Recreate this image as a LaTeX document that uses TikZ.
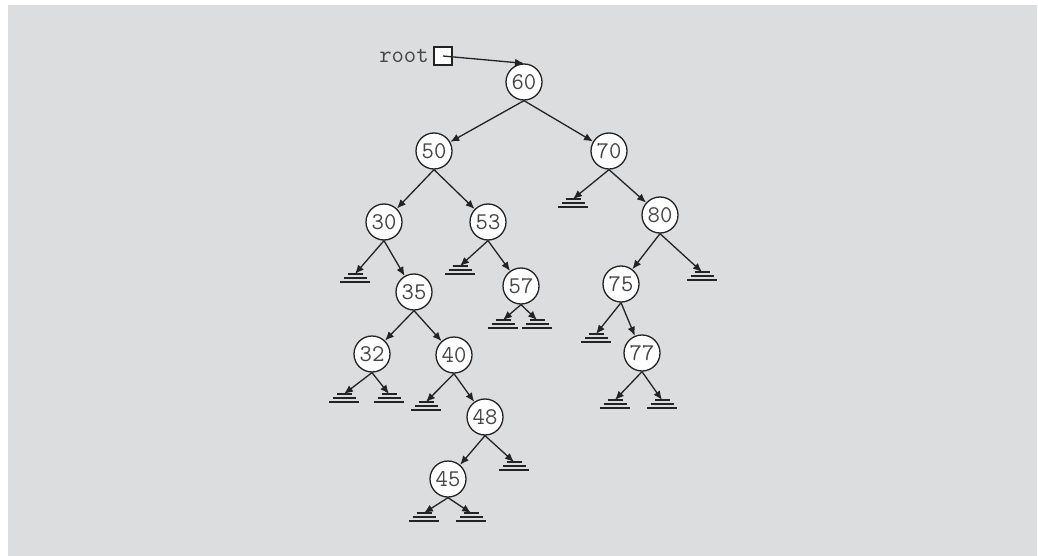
\documentclass[tikz,border=0pt]{standalone}
\usetikzlibrary{arrows.meta,positioning}
\definecolor{bggray}{RGB}{220,221,223}
\definecolor{inkgray}{RGB}{35,35,35}
\definecolor{textgray}{RGB}{70,70,70}

\begin{document}
\begin{tikzpicture}[x=0.5pt, y=-0.5pt, line width=0.65pt, draw=inkgray,
  key/.style={circle, draw=inkgray, fill=white, minimum size=18pt,
              inner sep=0pt, font=\ttfamily\fontsize{12}{13}\selectfont, text=textgray},
  ptrbox/.style={rectangle, draw=inkgray, fill=white, minimum size=9pt, inner sep=0pt},
  link/.style={-{Latex[length=4.5pt,width=3.8pt]}, inkgray},
]

% Background
\useasboundingbox (0,0) rectangle (1038,556);
\fill[bggray] (8,5) rectangle (1037,556);

% Nodes
\node[key] (n60) at (524,82)  {60};
\node[key] (n50) at (434,151) {50};
\node[key] (n70) at (609,151) {70};
\node[key] (n30) at (384,222) {30};
\node[key] (n53) at (488,222) {53};
\node[key] (n80) at (660,215) {80};
\node[key] (n35) at (414,292) {35};
\node[key] (n57) at (521,286) {57};
\node[key] (n75) at (621,284) {75};
\node[key] (n32) at (372,354) {32};
\node[key] (n40) at (454,355) {40};
\node[key] (n77) at (642,353) {77};
\node[key] (n48) at (485,417) {48};
\node[key] (n45) at (448,479) {45};

% Root pointer
\node[ptrbox] (rootbox) at (443,56) {};
\node[left=1pt of rootbox, inner sep=1pt, text=textgray,
      font=\ttfamily\fontsize{12}{13}\selectfont] (rootlbl) {root};

% Empty subtrees
\coordinate (g30)  at (355,274);
\coordinate (g53)  at (460,266);
\coordinate (g70)  at (573,199);
\coordinate (g80)  at (702,272);
\coordinate (g57l) at (503,320);
\coordinate (g57r) at (537,320);
\coordinate (g75)  at (596,334);
\coordinate (g32l) at (344,394);
\coordinate (g32r) at (389,394);
\coordinate (g40)  at (426,402);
\coordinate (g77l) at (615,400);
\coordinate (g77r) at (662,400);
\coordinate (g48)  at (514,462);
\coordinate (g45l) at (424,513);
\coordinate (g45r) at (471,513);

\foreach \g in {g30,g53,g70,g80,g57l,g57r,g75,g32l,g32r,g40,g77l,g77r,g48,g45l,g45r}
  \draw (\g) ++(-7.5,0) -- ++(15,0)
        (\g) ++(-11.5,4) -- ++(23,0)
        (\g) ++(-15,8) -- ++(30,0);

% Links
\draw[link] (rootbox.center) -- (n60.north);
\foreach \p/\c in {n60/n50, n60/n70, n50/n30, n50/n53, n70/g70, n70/n80,
                   n30/g30, n30/n35, n53/g53, n53/n57, n80/n75, n80/g80,
                   n35/n32, n35/n40, n57/g57l, n57/g57r, n75/g75, n75/n77,
                   n32/g32l, n32/g32r, n40/g40, n40/n48, n77/g77l, n77/g77r,
                   n48/n45, n48/g48, n45/g45l, n45/g45r}
  \draw[link] (\p.south) -- (\c);

\end{tikzpicture}
\end{document}
